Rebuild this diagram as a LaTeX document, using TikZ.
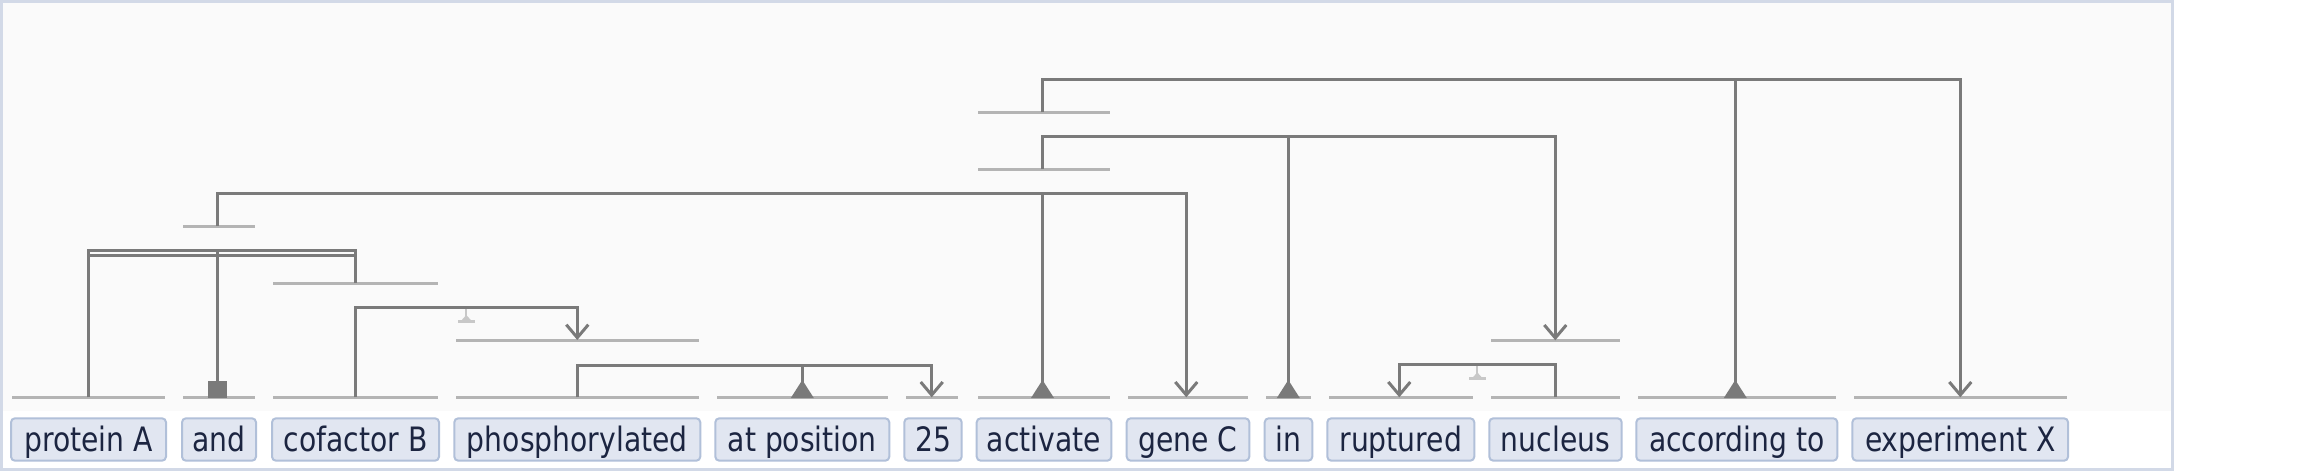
\documentclass[tikz,border=0pt]{standalone}
\usepackage{fontspec}
\setmainfont{DejaVu Sans}[FakeStretch=0.84]
\usetikzlibrary{arrows.meta}
\definecolor{arcc}{HTML}{7A7A7A}
\definecolor{spanc}{HTML}{B4B4B4}
\definecolor{markc}{HTML}{C8C8C8}
\definecolor{bgc}{HTML}{FAFAFA}
\definecolor{framec}{HTML}{D2D9E7}
\definecolor{boxfill}{HTML}{E1E6F1}
\definecolor{boxdraw}{HTML}{B1C0D9}
\definecolor{txtc}{HTML}{1C2541}
\newcommand\headtri[1]{\fill[arcc] (#1) ++(-11.5,0.7) -- ++(23,0) -- ++(-11.5,-18) -- cycle;}
\newcommand\coordsq[1]{\fill[arcc] (#1) ++(-9.5,0.7) rectangle ++(19,-17);}
\newcommand\lblmark[1]{%
  \fill[markc] (#1) ++(-1,1.4) rectangle ++(2,7.7);
  \fill[markc] (#1) ++(0,7.7) -- ++(4.5,5) -- ++(-9,0) -- cycle;
  \fill[markc] (#1) ++(-8.3,12.7) rectangle ++(16.7,3);}
\begin{document}
\begin{tikzpicture}[x=1pt,y=-1pt,
  arc/.style={draw=arcc,line width=3pt},
  spanline/.style={draw=spanc,line width=3pt},
  arr/.style={-{Straight Barb[length=13pt,width=22pt]}},
  wordbox/.style={draw=boxdraw,fill=boxfill,line width=2pt,rounded corners=4pt,
    inner xsep=0pt,inner ysep=0pt,text height=33.4pt,text depth=9pt,
    text=txtc,font=\fontsize{33.6}{40}\selectfont}]
% canvas
\fill[white] (0,0) rectangle (2300,471);
\useasboundingbox (0,0) rectangle (2300,471);
\fill[bgc] (3,3) rectangle (2171,411);
\draw[framec,line width=3pt] (1.5,1.5) rectangle (2172.5,469.5);
% word boxes
\node[wordbox,minimum width=155pt] (w1) at (88.5,439.5) {protein A};
\node[wordbox,minimum width=74pt] (w2) at (219,439.5) {and};
\node[wordbox,minimum width=167pt] (w3) at (355.5,439.5) {cofactor B};
\node[wordbox,minimum width=246pt] (w4) at (577.3,439.5) {phosphorylated};
\node[wordbox,minimum width=174pt] (w5) at (802.3,439.5) {at position};
\node[wordbox,minimum width=57.4pt] (w6) at (933,439.5) {25};
\node[wordbox,minimum width=134.6pt] (w7) at (1044,439.5) {activate};
\node[wordbox,minimum width=122.6pt] (w8) at (1188,439.5) {gene C};
\node[wordbox,minimum width=47.6pt] (w9) at (1288.5,439.5) {in};
\node[wordbox,minimum width=147pt] (w10) at (1400.8,439.5) {ruptured};
\node[wordbox,minimum width=132.4pt] (w11) at (1555.5,439.5) {nucleus};
\node[wordbox,minimum width=201pt] (w12) at (1736.8,439.5) {according to};
\node[wordbox,minimum width=215.7pt] (w13) at (1960.2,439.5) {experiment X};
% word lines
\draw[spanline] (12,397.3) -- (165,397.3);
\draw[spanline] (183,397.3) -- (255,397.3);
\draw[spanline] (273,397.3) -- (438,397.3);
\draw[spanline] (456,397.3) -- (699,397.3);
\draw[spanline] (717,397.3) -- (887.7,397.3);
\draw[spanline] (906,397.3) -- (957.5,397.3);
\draw[spanline] (978,397.3) -- (1110,397.3);
\draw[spanline] (1128,397.3) -- (1247.7,397.3);
\draw[spanline] (1266,397.3) -- (1310.7,397.3);
\draw[spanline] (1329,397.3) -- (1472.7,397.3);
\draw[spanline] (1491,397.3) -- (1619.7,397.3);
\draw[spanline] (1638,397.3) -- (1835.7,397.3);
\draw[spanline] (1854,397.3) -- (2067,397.3);
% attachment points on word lines
\coordinate (l1) at (88.3,397.3);
\coordinate (l2) at (217.7,397.3);
\coordinate (l3) at (355.3,397.3);
\coordinate (l4) at (577.3,397.3);
\coordinate (l5) at (802.3,397.3);
\coordinate (l6) at (931.7,397.3);
\coordinate (l7) at (1042.5,397.3);
\coordinate (l8) at (1186.3,397.3);
\coordinate (l9) at (1288.3,397.3);
\coordinate (l10) at (1399.3,397.3);
\coordinate (l11) at (1555.3,397.3);
\coordinate (l12) at (1735.3,397.3);
\coordinate (l13) at (1960.3,397.3);
% raised spans
\draw[spanline] (183,226) -- (255,226);
\coordinate (sand) at (217.7,226);
\draw[spanline] (273,283.3) -- (438,283.3);
\coordinate (scof) at (355.3,283.3);
\draw[spanline] (456,340) -- (699,340);
\coordinate (sphos) at (577.3,340);
\draw[spanline] (978,112.3) -- (1110,112.3);
\coordinate (sact1) at (1042.5,112.3);
\draw[spanline] (978,169.3) -- (1110,169.3);
\coordinate (sact2) at (1042.5,169.3);
\draw[spanline] (1491,340.3) -- (1619.7,340.3);
\coordinate (snuc) at (1555.3,340.3);
% arc levels
\coordinate (y1) at (0,79.3);
\coordinate (y2) at (0,136.3);
\coordinate (y3) at (0,193.5);
\coordinate (y4) at (0,250.3);
\coordinate (y4b) at (0,255.5);
\coordinate (y5) at (0,307.3);
\coordinate (y6) at (0,365);
\coordinate (y7) at (0,364.7);
% arcs
\draw[arc,arr] (sact1) -- (sact1 |- y1) -| (l13);
\draw[arc] (l12 |- y1) -- (l12);
\draw[arc,arr] (sact2) -- (sact2 |- y2) -| (snuc);
\draw[arc] (l9 |- y2) -- (l9);
\draw[arc,arr] (sand) -- (sand |- y3) -| (l8);
\draw[arc] (l7 |- y3) -- (l7);
\draw[arc] (l1) -- (l1 |- y4) -| (scof);
\draw[arc] (l1 |- y4b) -- (scof |- y4b);
\draw[arc] (l2 |- y4) -- (l2);
\draw[arc,arr] (l3) -- (l3 |- y5) -| (sphos);
\draw[arc,arr] (l4) -- (l4 |- y6) -| (l6);
\draw[arc] (l5 |- y6) -- (l5);
\draw[arc,arr] (l11) -- (l11 |- y7) -| (l10);
% head markers
\headtri{l12}
\headtri{l9}
\headtri{l7}
\headtri{l5}
\coordsq{l2}
% label markers
\coordinate (m1) at (466.3,307.3);
\coordinate (m2) at (1477.3,364.7);
\lblmark{m1}
\lblmark{m2}
\end{tikzpicture}
\end{document}
